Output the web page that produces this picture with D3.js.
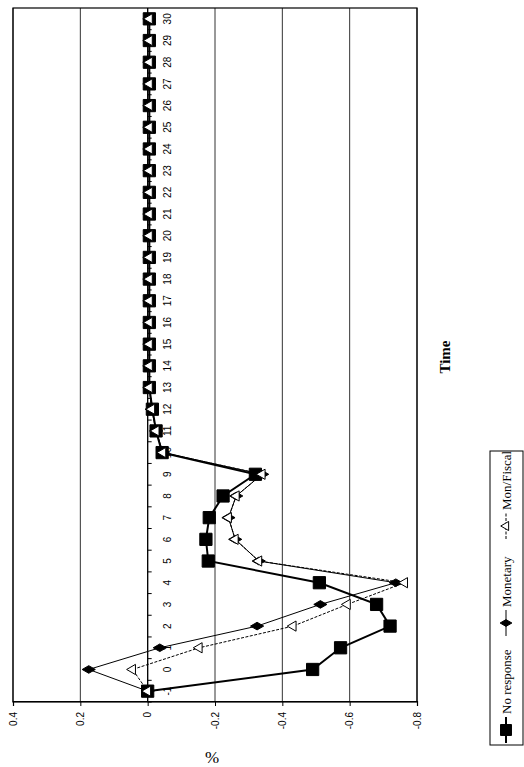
<!DOCTYPE html>
<html>
<head>
<meta charset="utf-8">
<script src="https://cdn.jsdelivr.net/npm/d3@7"></script>
<style>
  body { margin: 0; background: #fff; }
</style>
</head>
<body>
<div id="chart"></div>
<script>
const times = [-1, 0, 1, 2, 3, 4, 5, 6, 7, 8, 9, 10, 11, 12, 13, 14, 15,
               16, 17, 18, 19, 20, 21, 22, 23, 24, 25, 26, 27, 28, 29, 30];
const valueTicks = [0.4, 0.2, 0, -0.2, -0.4, -0.6, -0.8];

const noResponse = [0, -0.49, -0.573, -0.72, -0.68, -0.51, -0.18, -0.173, -0.183, -0.224, -0.32,
                    -0.043, -0.025, -0.014, -0.005, -0.005, -0.005, -0.005, -0.005, -0.005, -0.005,
                    -0.005, -0.005, -0.005, -0.005, -0.005, -0.005, -0.005, -0.005, -0.005, -0.005, -0.005];
const monetary = [0, 0.175, -0.036, -0.325, -0.513, -0.737, -0.33, -0.26, -0.24, -0.263, -0.34,
                  -0.045, -0.025, -0.012, -0.005, -0.005, -0.005, -0.005, -0.005, -0.005, -0.005,
                  -0.005, -0.005, -0.005, -0.005, -0.005, -0.005, -0.005, -0.005, -0.005, -0.005, -0.005];
const monFiscal = [0, 0.045, -0.153, -0.432, -0.593, -0.763, -0.33, -0.26, -0.24, -0.263, -0.34,
                   -0.045, -0.025, -0.012, -0.005, -0.005, -0.005, -0.005, -0.005, -0.005, -0.005,
                   -0.005, -0.005, -0.005, -0.005, -0.005, -0.005, -0.005, -0.005, -0.005, -0.005, -0.005];
const seriesNames = ["No response", "Monetary", "Mon/Fiscal"];

const pageW = 524, pageH = 767;

// the page is a landscape chart turned a quarter turn, so draw it landscape and rotate
const svg = d3.select("#chart")
  .append("svg")
    .attr("width", pageW)
    .attr("height", pageH);

const g = svg.append("g")
    .attr("transform", `translate(0,${pageH}) rotate(-90)`);

const plot = {left: 65, right: 759, top: 13, bottom: 417};

const x = d3.scaleBand()
    .domain(times)
    .range([plot.left, plot.right]);
const y = d3.scaleLinear()
    .domain([0.4, -0.8])
    .range([plot.top, plot.bottom]);

const cx = d => x(d) + x.bandwidth() / 2;

// gridlines
g.append("g")
  .selectAll("line")
  .data(valueTicks)
  .join("line")
    .attr("x1", plot.left)
    .attr("x2", plot.right)
    .attr("y1", d => y(d))
    .attr("y2", d => y(d))
    .attr("stroke", "#333")
    .attr("stroke-width", 1);

g.append("rect")
    .attr("x", plot.left)
    .attr("y", plot.top)
    .attr("width", plot.right - plot.left)
    .attr("height", plot.bottom - plot.top)
    .attr("fill", "none")
    .attr("stroke", "#000")
    .attr("stroke-width", 1.2);

// value axis
const yAxis = g.append("g")
    .attr("transform", `translate(${plot.left},0)`)
    .call(d3.axisLeft(y)
      .tickValues(valueTicks)
      .tickSize(4)
      .tickPadding(6)
      .tickFormat(d => String(d)));
yAxis.select(".domain").attr("stroke-width", 1.2);
yAxis.selectAll("text")
    .style("font", "10px 'Liberation Sans', Arial, sans-serif")
    .attr("fill", "#000");

// time axis sits on the zero line
const xAxis = g.append("g")
    .attr("transform", `translate(0,${y(0)})`);
xAxis.append("line")
    .attr("x1", plot.left)
    .attr("x2", plot.right)
    .attr("stroke", "#000")
    .attr("stroke-width", 1.2);
xAxis.selectAll(".tick")
  .data(times)
  .join("line")
    .attr("class", "tick")
    .attr("x1", d => x(d))
    .attr("x2", d => x(d))
    .attr("y1", 0)
    .attr("y2", 4)
    .attr("stroke", "#000");
xAxis.selectAll("text")
  .data(times)
  .join("text")
    .attr("x", d => cx(d))
    .attr("y", 20)
    .attr("dy", "0.35em")
    .attr("text-anchor", "middle")
    .style("font", "10px 'Liberation Sans', Arial, sans-serif")
    .text(d => d);

// series
const series = [
  {name: seriesNames[0], values: noResponse, width: 2, dash: null,
   symbol: d3.symbolSquare, size: 150, fill: "#000"},
  {name: seriesNames[1], values: monetary, width: 1, dash: null,
   symbol: d3.symbolDiamond, size: 50, fill: "#000"},
  {name: seriesNames[2], values: monFiscal, width: 1, dash: "3,1.5",
   symbol: d3.symbolTriangle, size: 45, fill: "#fff"}
];

const line = d3.line()
    .x((d, i) => cx(times[i]))
    .y(d => y(d));

series.forEach(s => {
  g.append("path")
      .datum(s.values)
      .attr("d", line)
      .attr("fill", "none")
      .attr("stroke", "#000")
      .attr("stroke-width", s.width)
      .attr("stroke-dasharray", s.dash);

  g.append("g")
    .selectAll("path")
    .data(s.values)
    .join("path")
      .attr("d", d3.symbol().type(s.symbol).size(s.size))
      .attr("transform", (d, i) => `translate(${cx(times[i])},${y(d)})`)
      .attr("fill", s.fill)
      .attr("stroke", "#000")
      .attr("stroke-width", 1);
});

// axis titles
g.append("text")
    .attr("x", 410)
    .attr("y", 445)
    .attr("text-anchor", "middle")
    .attr("dy", "0.35em")
    .style("font", "bold 15px 'Liberation Serif', 'Times New Roman', serif")
    .text("Time");

g.append("text")
    .attr("transform", "translate(10,212) rotate(90)")
    .attr("text-anchor", "middle")
    .attr("dy", "0.35em")
    .style("font", "17px 'Liberation Serif', 'Times New Roman', serif")
    .text("%");

// legend
const legend = g.append("g");
legend.append("rect")
    .attr("x", 22)
    .attr("y", 490)
    .attr("width", 294)
    .attr("height", 33)
    .attr("fill", "#fff")
    .attr("stroke", "#000");

const legendX = [24, 131, 228];
series.forEach((s, i) => {
  const lx = legendX[i];
  const ly = 506;
  legend.append("line")
      .attr("x1", lx)
      .attr("x2", lx + 26)
      .attr("y1", ly)
      .attr("y2", ly)
      .attr("stroke", "#000")
      .attr("stroke-width", s.width)
      .attr("stroke-dasharray", s.dash);
  legend.append("path")
      .attr("d", d3.symbol().type(s.symbol).size(s.size * 0.8))
      .attr("transform", `translate(${lx + 13},${ly})`)
      .attr("fill", s.fill)
      .attr("stroke", "#000");
  legend.append("text")
      .attr("x", lx + 29)
      .attr("y", ly)
      .attr("dy", "0.35em")
      .style("font", "13px 'Liberation Serif', 'Times New Roman', serif")
      .text(s.name);
});
</script>
</body>
</html>
